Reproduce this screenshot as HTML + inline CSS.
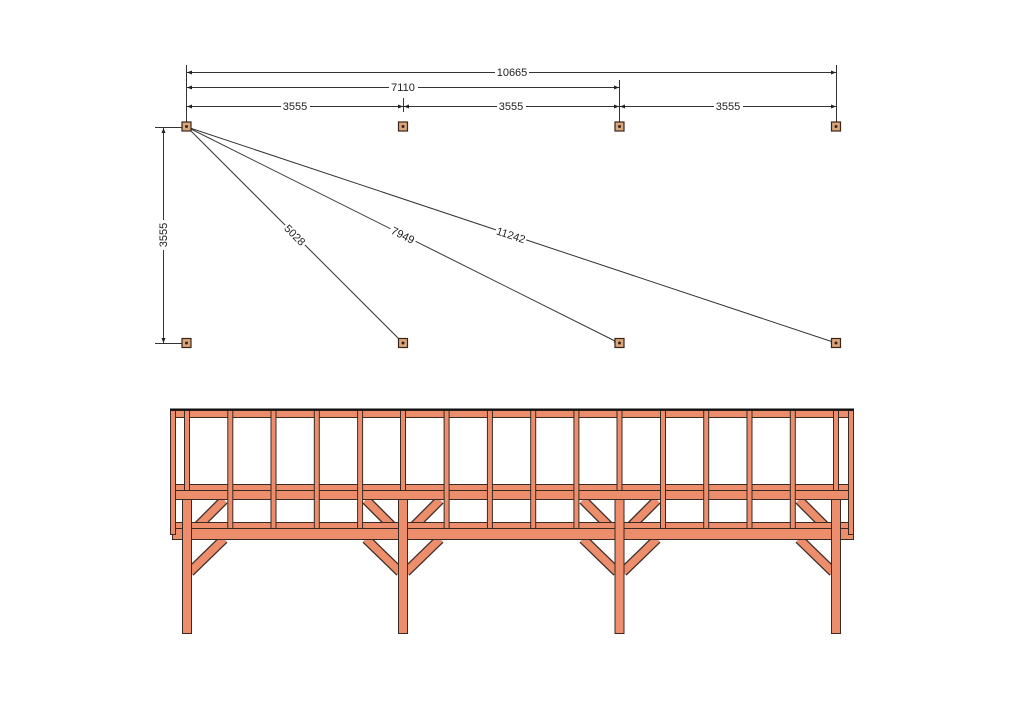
<!DOCTYPE html>
<html><head><meta charset="utf-8"><style>
html,body{margin:0;padding:0;background:#fff;}
svg{display:block;}
text{font-family:"Liberation Sans",sans-serif;font-size:11px;fill:#222;}
</style></head><body>
<svg width="1024" height="724" viewBox="0 0 1024 724" xmlns="http://www.w3.org/2000/svg">
<defs>
<marker id="a" viewBox="0 0 10 10" refX="10" refY="5" markerWidth="7" markerHeight="5" orient="auto-start-reverse"><path d="M0,1 L10,5 L0,9z" fill="#222"/></marker>
</defs>
<g stroke="#333" stroke-width="1" fill="none">
<line x1="186.5" y1="65" x2="186.5" y2="124"/>
<line x1="619.5" y1="80" x2="619.5" y2="122"/>
<line x1="403.5" y1="98" x2="403.5" y2="112"/>
<line x1="836.5" y1="65" x2="836.5" y2="122"/>
<line x1="187" y1="72.5" x2="836" y2="72.5" marker-start="url(#a)" marker-end="url(#a)"/>
<line x1="187" y1="87.5" x2="619" y2="87.5" marker-start="url(#a)" marker-end="url(#a)"/>
<line x1="187" y1="106.5" x2="403" y2="106.5" marker-start="url(#a)" marker-end="url(#a)"/>
<line x1="404" y1="106.5" x2="619" y2="106.5" marker-start="url(#a)" marker-end="url(#a)"/>
<line x1="620" y1="106.5" x2="836" y2="106.5" marker-start="url(#a)" marker-end="url(#a)"/>
<line x1="155" y1="127.5" x2="183" y2="127.5"/>
<line x1="155" y1="343.5" x2="182" y2="343.5"/>
<line x1="163.5" y1="128" x2="163.5" y2="343" marker-start="url(#a)" marker-end="url(#a)"/>
<line x1="187" y1="127" x2="403" y2="343" marker-end="url(#a)"/>
<line x1="187" y1="127" x2="619" y2="343" marker-end="url(#a)"/>
<line x1="187" y1="127" x2="836" y2="343" marker-end="url(#a)"/>
</g>
<g fill="#fff">
<rect x="495" y="66" width="34" height="12"/>
<rect x="389" y="81" width="29" height="12"/>
<rect x="281" y="100" width="29" height="12"/>
<rect x="497" y="100" width="29" height="12"/>
<rect x="714" y="100" width="29" height="12"/>
<rect x="157" y="220" width="12" height="30"/>
</g>
<text x="512" y="76" text-anchor="middle">10665</text>
<text x="403" y="91" text-anchor="middle">7110</text>
<text x="295" y="110" text-anchor="middle">3555</text>
<text x="511" y="110" text-anchor="middle">3555</text>
<text x="728" y="110" text-anchor="middle">3555</text>
<text transform="translate(167,235) rotate(-90)" text-anchor="middle">3555</text>
<g text-anchor="middle">
<g transform="translate(295,235) rotate(45)"><rect x="-14" y="-6" width="28" height="12" fill="#fff"/><text y="4">5028</text></g>
<g transform="translate(403,235) rotate(26.6)"><rect x="-14" y="-6" width="28" height="12" fill="#fff"/><text y="4">7949</text></g>
<g transform="translate(511,235) rotate(18.4)"><rect x="-16" y="-6" width="32" height="12" fill="#fff"/><text y="4">11242</text></g>
</g>
<g fill="#d8a67a" stroke="#3a2418" stroke-width="1.2">
<rect x="182" y="122" width="9" height="9"/><rect x="398.5" y="122" width="9" height="9"/><rect x="615" y="122" width="9" height="9"/><rect x="831.5" y="122" width="9" height="9"/>
<rect x="182" y="338.5" width="9" height="9"/><rect x="398.5" y="338.5" width="9" height="9"/><rect x="615" y="338.5" width="9" height="9"/><rect x="831.5" y="338.5" width="9" height="9"/>
</g>
<g fill="#3a2418">
<circle cx="186.5" cy="126.5" r="1.5"/><circle cx="403" cy="126.5" r="1.5"/><circle cx="619.5" cy="126.5" r="1.5"/><circle cx="836" cy="126.5" r="1.5"/>
<circle cx="186.5" cy="343" r="1.5"/><circle cx="403" cy="343" r="1.5"/><circle cx="619.5" cy="343" r="1.5"/><circle cx="836" cy="343" r="1.5"/>
</g>
<g stroke-linecap="butt">
<g stroke="#3a2a24" stroke-width="10">
<line x1="190" y1="534" x2="224" y2="500"/><line x1="190" y1="572" x2="224" y2="539"/>
<line x1="400" y1="534" x2="366" y2="500"/><line x1="400" y1="572" x2="366" y2="539"/>
<line x1="406" y1="534" x2="440" y2="500"/><line x1="406" y1="572" x2="440" y2="539"/>
<line x1="617" y1="534" x2="583" y2="500"/><line x1="617" y1="572" x2="583" y2="539"/>
<line x1="623" y1="534" x2="657" y2="500"/><line x1="623" y1="572" x2="657" y2="539"/>
<line x1="833" y1="534" x2="799" y2="500"/><line x1="833" y1="572" x2="799" y2="539"/>
</g>
<g stroke="#ec8e6c" stroke-width="7.5">
<line x1="190" y1="534" x2="224" y2="500"/><line x1="190" y1="572" x2="224" y2="539"/>
<line x1="400" y1="534" x2="366" y2="500"/><line x1="400" y1="572" x2="366" y2="539"/>
<line x1="406" y1="534" x2="440" y2="500"/><line x1="406" y1="572" x2="440" y2="539"/>
<line x1="617" y1="534" x2="583" y2="500"/><line x1="617" y1="572" x2="583" y2="539"/>
<line x1="623" y1="534" x2="657" y2="500"/><line x1="623" y1="572" x2="657" y2="539"/>
<line x1="833" y1="534" x2="799" y2="500"/><line x1="833" y1="572" x2="799" y2="539"/>
</g>
</g>
<g fill="#ec8e6c" stroke="#3a2a24" stroke-width="1">
<rect x="170.5" y="410.5" width="683" height="7"/>
<rect x="172.5" y="484.5" width="681" height="6"/>
<rect x="172.5" y="490.5" width="681" height="9"/>
<rect x="172.5" y="522.5" width="681" height="6"/>
<rect x="172.5" y="528.5" width="681" height="11"/>
<rect x="170.5" y="410.5" width="5" height="124"/>
<rect x="848.5" y="410.5" width="5" height="124"/>
<rect x="227.8" y="410.5" width="5" height="118"/>
<rect x="271" y="410.5" width="5" height="118"/>
<rect x="314.3" y="410.5" width="5" height="118"/>
<rect x="357.6" y="410.5" width="5" height="118"/>
<rect x="444.1" y="410.5" width="5" height="118"/>
<rect x="487.4" y="410.5" width="5" height="118"/>
<rect x="530.7" y="410.5" width="5" height="118"/>
<rect x="573.9" y="410.5" width="5" height="118"/>
<rect x="660.5" y="410.5" width="5" height="118"/>
<rect x="703.7" y="410.5" width="5" height="118"/>
<rect x="747" y="410.5" width="5" height="118"/>
<rect x="790.3" y="410.5" width="5" height="118"/>
<rect x="184.5" y="410.5" width="5" height="80"/>
<rect x="400.5" y="410.5" width="5" height="80"/>
<rect x="617" y="410.5" width="5" height="80"/>
<rect x="833.5" y="410.5" width="5" height="80"/>
<rect x="182.5" y="499.5" width="9" height="134"/>
<rect x="398.5" y="499.5" width="9" height="134"/>
<rect x="615" y="499.5" width="9" height="134"/>
<rect x="831.5" y="499.5" width="9" height="134"/>
</g>
<line x1="170" y1="409.5" x2="854" y2="409.5" stroke="#111" stroke-width="2"/>
</svg>
</body></html>
